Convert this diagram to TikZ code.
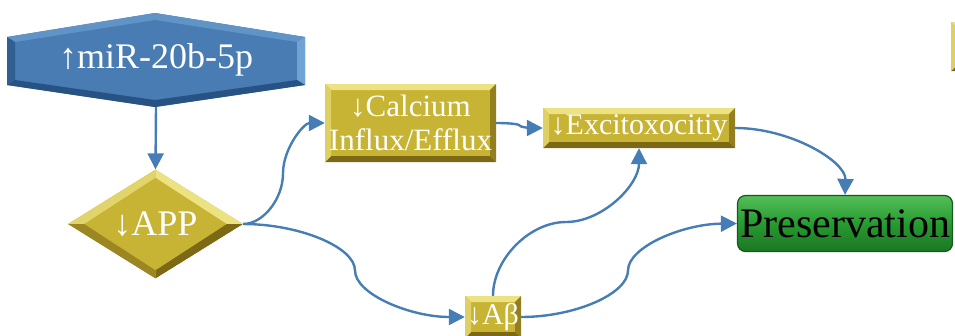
\documentclass[tikz,border=0pt]{standalone}
\usepackage{fontspec}
\setmainfont{Liberation Serif}
\usetikzlibrary{shapes.geometric,arrows.meta}
\definecolor{gold}{RGB}{200,180,52}
\definecolor{goldlt}{RGB}{236,226,130}
\definecolor{golddk}{RGB}{125,104,22}
\definecolor{hexblue}{RGB}{72,124,178}
\definecolor{hexlt}{RGB}{112,162,212}
\definecolor{hexdk}{RGB}{38,82,132}
\definecolor{grn}{RGB}{38,155,48}
\definecolor{grnlt}{RGB}{84,190,88}
\definecolor{grndk}{RGB}{28,118,36}
\definecolor{grnedge}{RGB}{20,90,28}
\definecolor{link}{RGB}{70,125,180}
\tikzset{
  bevelbox/.style={fill=gold, inner sep=0pt, text=white,
    path picture={
      \path (path picture bounding box.north west) coordinate (bvnw)
            (path picture bounding box.north east) coordinate (bvne)
            (path picture bounding box.south west) coordinate (bvsw)
            (path picture bounding box.south east) coordinate (bvse);
      \fill[goldlt] (bvnw) -- (bvne) -- ([shift={(-6pt,-6pt)}]bvne) -- ([shift={(6pt,-6pt)}]bvnw) -- cycle;
      \fill[golddk] (bvsw) -- (bvse) -- ([shift={(-6pt,6pt)}]bvse) -- ([shift={(6pt,6pt)}]bvsw) -- cycle;
      \fill[goldlt!60!gold] (bvnw) -- (bvsw) -- ([shift={(6pt,6pt)}]bvsw) -- ([shift={(6pt,-6pt)}]bvnw) -- cycle;
      \fill[golddk!70!gold] (bvne) -- (bvse) -- ([shift={(-6pt,6pt)}]bvse) -- ([shift={(-6pt,-6pt)}]bvne) -- cycle;
    }},
  bevelgem/.style={diamond, fill=gold, inner sep=0pt, text=white,
    path picture={
      \path (path picture bounding box.north) coordinate (dgn)
            (path picture bounding box.east) coordinate (dge)
            (path picture bounding box.south) coordinate (dgs)
            (path picture bounding box.west) coordinate (dgw);
      \fill[goldlt!70!gold] (dgw) -- (dgn) -- ([yshift=-8pt]dgn) -- ([xshift=16pt]dgw) -- cycle;
      \fill[goldlt] (dgn) -- (dge) -- ([xshift=-16pt]dge) -- ([yshift=-8pt]dgn) -- cycle;
      \fill[golddk] (dge) -- (dgs) -- ([yshift=8pt]dgs) -- ([xshift=-16pt]dge) -- cycle;
      \fill[golddk!60!gold] (dgs) -- (dgw) -- ([xshift=16pt]dgw) -- ([yshift=8pt]dgs) -- cycle;
    }},
  link/.style={draw=link, line width=2.4pt, -{Triangle[length=16pt,width=16pt]}},
  bigtxt/.style={font=\fontsize{36}{40}\selectfont},
  midtxt/.style={font=\fontsize{31}{34}\selectfont},
  smltxt/.style={font=\fontsize{30}{33}\selectfont},
}
\begin{document}
\begin{tikzpicture}[x=1pt,y=-1pt]
\useasboundingbox (0,0) rectangle (955,335);
\clip (0,0) rectangle (955,335);
% hexagon body
\fill[hexblue] (7,37) -- (155,13) -- (305,37) -- (305,85) -- (155,107) -- (7,85) -- cycle;
\fill[hexlt!60!hexblue] (7,37) -- (155,13) -- (155,20) -- (15,42) -- cycle;
\fill[hexlt!60!hexblue] (155,13) -- (305,37) -- (297,42) -- (155,20) -- cycle;
\fill[hexlt] (305,37) -- (305,85) -- (297,80) -- (297,42) -- cycle;
\fill[hexdk!70!hexblue] (7,37) -- (7,85) -- (15,80) -- (15,42) -- cycle;
\fill[hexdk] (7,85) -- (155,107) -- (155,100) -- (15,80) -- cycle;
\fill[hexdk] (155,107) -- (305,85) -- (297,80) -- (155,100) -- cycle;
\node[bigtxt, text=white, inner sep=0pt, minimum width=298pt, minimum height=94pt] (mir) at (156,60) {↑miR-20b-5p};
% other nodes
\node[bevelgem, bigtxt, minimum width=175pt, minimum height=88pt] (app) at (155.5,224) {↓APP};
\node[bevelbox, midtxt, minimum width=171pt, minimum height=78pt, align=center] (calc) at (410.5,123) {↓Calcium\\Influx/Efflux};
\node[bevelbox, smltxt, minimum width=192pt, minimum height=40pt] (exc) at (639,128) {↓Excitoxocitiy};
\node[bevelbox, smltxt, minimum width=56pt, minimum height=42pt] (ab) at (493,317) {↓Aβ};
\node[rounded corners=8pt, top color=grnlt, bottom color=grndk, middle color=grn, draw=grnedge, line width=1.2pt, inner sep=0pt, minimum width=215pt, minimum height=56pt, font=\fontsize{42}{44}\selectfont] (pres) at (845,223.5) {Preservation};
\node[bevelbox, minimum width=34pt, minimum height=49pt] (edge) at (968,46.5) {};
% connectors
\draw[link] (mir.south) -- (app.north);
\draw[link] (app.east) .. controls (263,224) and (283,199) .. (283,173.5)
            .. controls (283,148) and (304,123) .. (calc.west);
\draw[link] (app.east) .. controls (299,224) and (355,247) .. (355,270.5)
            .. controls (355,294) and (410,317) .. (ab.west);
\draw[link] (calc.east) .. controls (508,123) and (519.5,124) .. (519.5,125.5)
            .. controls (519.5,127) and (531,128) .. (exc.west);
\draw[link] (ab.north) .. controls (493,259) and (529.5,222) .. (566,222)
            .. controls (602.5,222) and (639,185) .. (exc.south);
\draw[link] (ab.east) .. controls (574.5,317) and (628,294) .. (628,270.5)
            .. controls (628,247) and (682.5,224) .. (pres.west);
\draw[link] (exc.east) .. controls (790.5,128) and (846,161.5) .. (pres.north);
\end{tikzpicture}
\end{document}
